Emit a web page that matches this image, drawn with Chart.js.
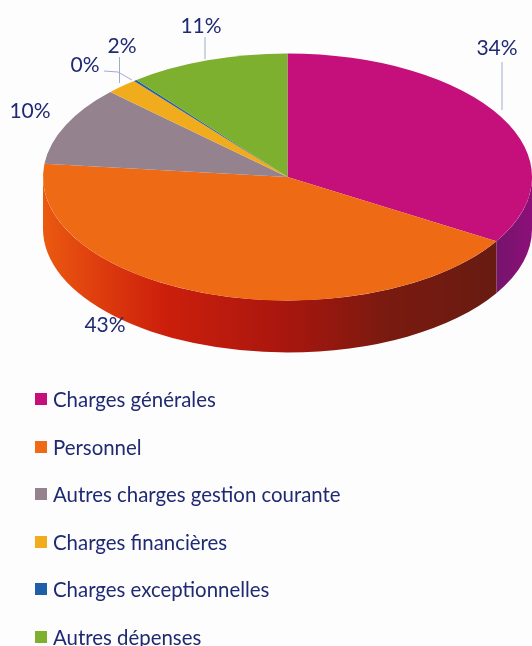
<!DOCTYPE html>
<html>
<head>
    <meta charset="utf-8">
    <title>Charges</title>
    <script src="https://cdn.jsdelivr.net/npm/chart.js"></script>
    <style>
        body {
            margin: 0;
            background: #fdfdfe;
            font-family: 'Lato', sans-serif;
            color: #1f2a72;
        }

        .page {
            position: relative;
            width: 532px;
            height: 646px;
            overflow: hidden;
        }

        canvas {
            position: absolute;
            left: 0;
            top: 0;
        }

        .legend-row {
            position: absolute;
            left: 35px;
            display: flex;
            align-items: center;
            height: 24px;
            font-size: 20.4px;
            white-space: nowrap;
        }

        .swatch {
            width: 12px;
            height: 12px;
            margin-right: 6px;
        }
    </style>
</head>
<body>
<div class="page">
    <canvas id="pie" width="532" height="646"></canvas>
    <div id="legend"></div>
</div>

<script>
    const categories = ['Charges générales', 'Personnel', 'Autres charges gestion courante',
        'Charges financières', 'Charges exceptionnelles', 'Autres dépenses'];
    const shares = [33.7, 43, 10.4, 2.1, 0.2, 10.6];
    const shareLabels = ['34%', '43%', '10%', '2%', '0%', '11%'];

    const sliceColors = ['#c5107c', '#ee6a14', '#94828f', '#f0ac1c', '#1f5fa8', '#7cb02e'];

    // squashed pie: ellipse drawn from the arcs chart.js lays out
    const squash = 0.505;
    const topY = 177;
    const depth = 52;

    // where the % labels sit, same order as categories
    const labelSpots = [[497, 48], [105, 325], [30, 111], [122, 46], [85, 65], [201, 26]];
    const leaders = [
        [[502, 62], [502, 110]],
        [],
        [],
        [[119.5, 57], [119.5, 83]],
        [[104, 71], [118, 72], [132, 80]],
        [[205, 37], [205, 59]]
    ];

    const pieStyle = {
        id: 'pieStyle',
        beforeDatasetsDraw(chart) {
            const ctx = chart.ctx;
            const arcs = chart.getDatasetMeta(0).data;

            // side wall first, only the front half shows
            arcs.forEach((arc, i) => {
                const from = Math.max(arc.startAngle, 0);
                const to = Math.min(arc.endAngle, Math.PI);
                if (to <= from) return;
                const rx = arc.outerRadius, ry = rx * squash;
                ctx.beginPath();
                ctx.ellipse(arc.x, topY, rx, ry, 0, from, to);
                ctx.ellipse(arc.x, topY + depth, rx, ry, 0, to, from, true);
                ctx.closePath();
                const g = ctx.createLinearGradient(arc.x - rx, 0, arc.x + rx, 0);
                if (i === 0) {
                    g.addColorStop(0.9, '#6c1668');
                    g.addColorStop(1, '#8c0f78');
                } else {
                    g.addColorStop(0, '#ea5a10');
                    g.addColorStop(0.1, '#e0400e');
                    g.addColorStop(0.25, '#cc1f0c');
                    g.addColorStop(0.5, '#a8160e');
                    g.addColorStop(0.7, '#7a1a10');
                    g.addColorStop(1, '#621c12');
                }
                ctx.fillStyle = g;
                ctx.fill();
            });

            ctx.save();
            const cy = arcs[0].y;
            ctx.translate(0, topY);
            ctx.scale(1, squash);
            ctx.translate(0, -cy);
        },
        afterDatasetsDraw(chart) {
            const ctx = chart.ctx;
            ctx.restore();

            ctx.strokeStyle = '#9fadc8';
            ctx.lineWidth = 1;
            leaders.forEach(pts => {
                if (!pts.length) return;
                ctx.beginPath();
                pts.forEach((p, k) => k ? ctx.lineTo(p[0], p[1]) : ctx.moveTo(p[0], p[1]));
                ctx.stroke();
            });

            ctx.fillStyle = '#1f2a72';
            ctx.font = "21px Lato";
            ctx.textAlign = 'center';
            ctx.textBaseline = 'middle';
            shareLabels.forEach((t, i) => ctx.fillText(t, labelSpots[i][0], labelSpots[i][1]));
        }
    };

    new Chart(document.getElementById('pie'), {
        type: 'pie',
        data: {
            labels: categories,
            datasets: [{
                data: shares,
                backgroundColor: sliceColors,
                borderWidth: 0
            }]
        },
        options: {
            responsive: false,
            animation: false,
            events: [],
            layout: { padding: { left: 43, right: 0, top: 0, bottom: 157 } },
            plugins: {
                legend: { display: false },
                tooltip: { enabled: false }
            }
        },
        plugins: [pieStyle]
    });

    // legend as html rows
    const legendBox = document.getElementById('legend');
    categories.forEach((name, i) => {
        const row = document.createElement('div');
        row.className = 'legend-row';
        row.style.top = (387 + i * 47.6) + 'px';
        const sw = document.createElement('span');
        sw.className = 'swatch';
        sw.style.background = sliceColors[i];
        row.appendChild(sw);
        row.appendChild(document.createTextNode(name));
        legendBox.appendChild(row);
    });
</script>
</body>
</html>
